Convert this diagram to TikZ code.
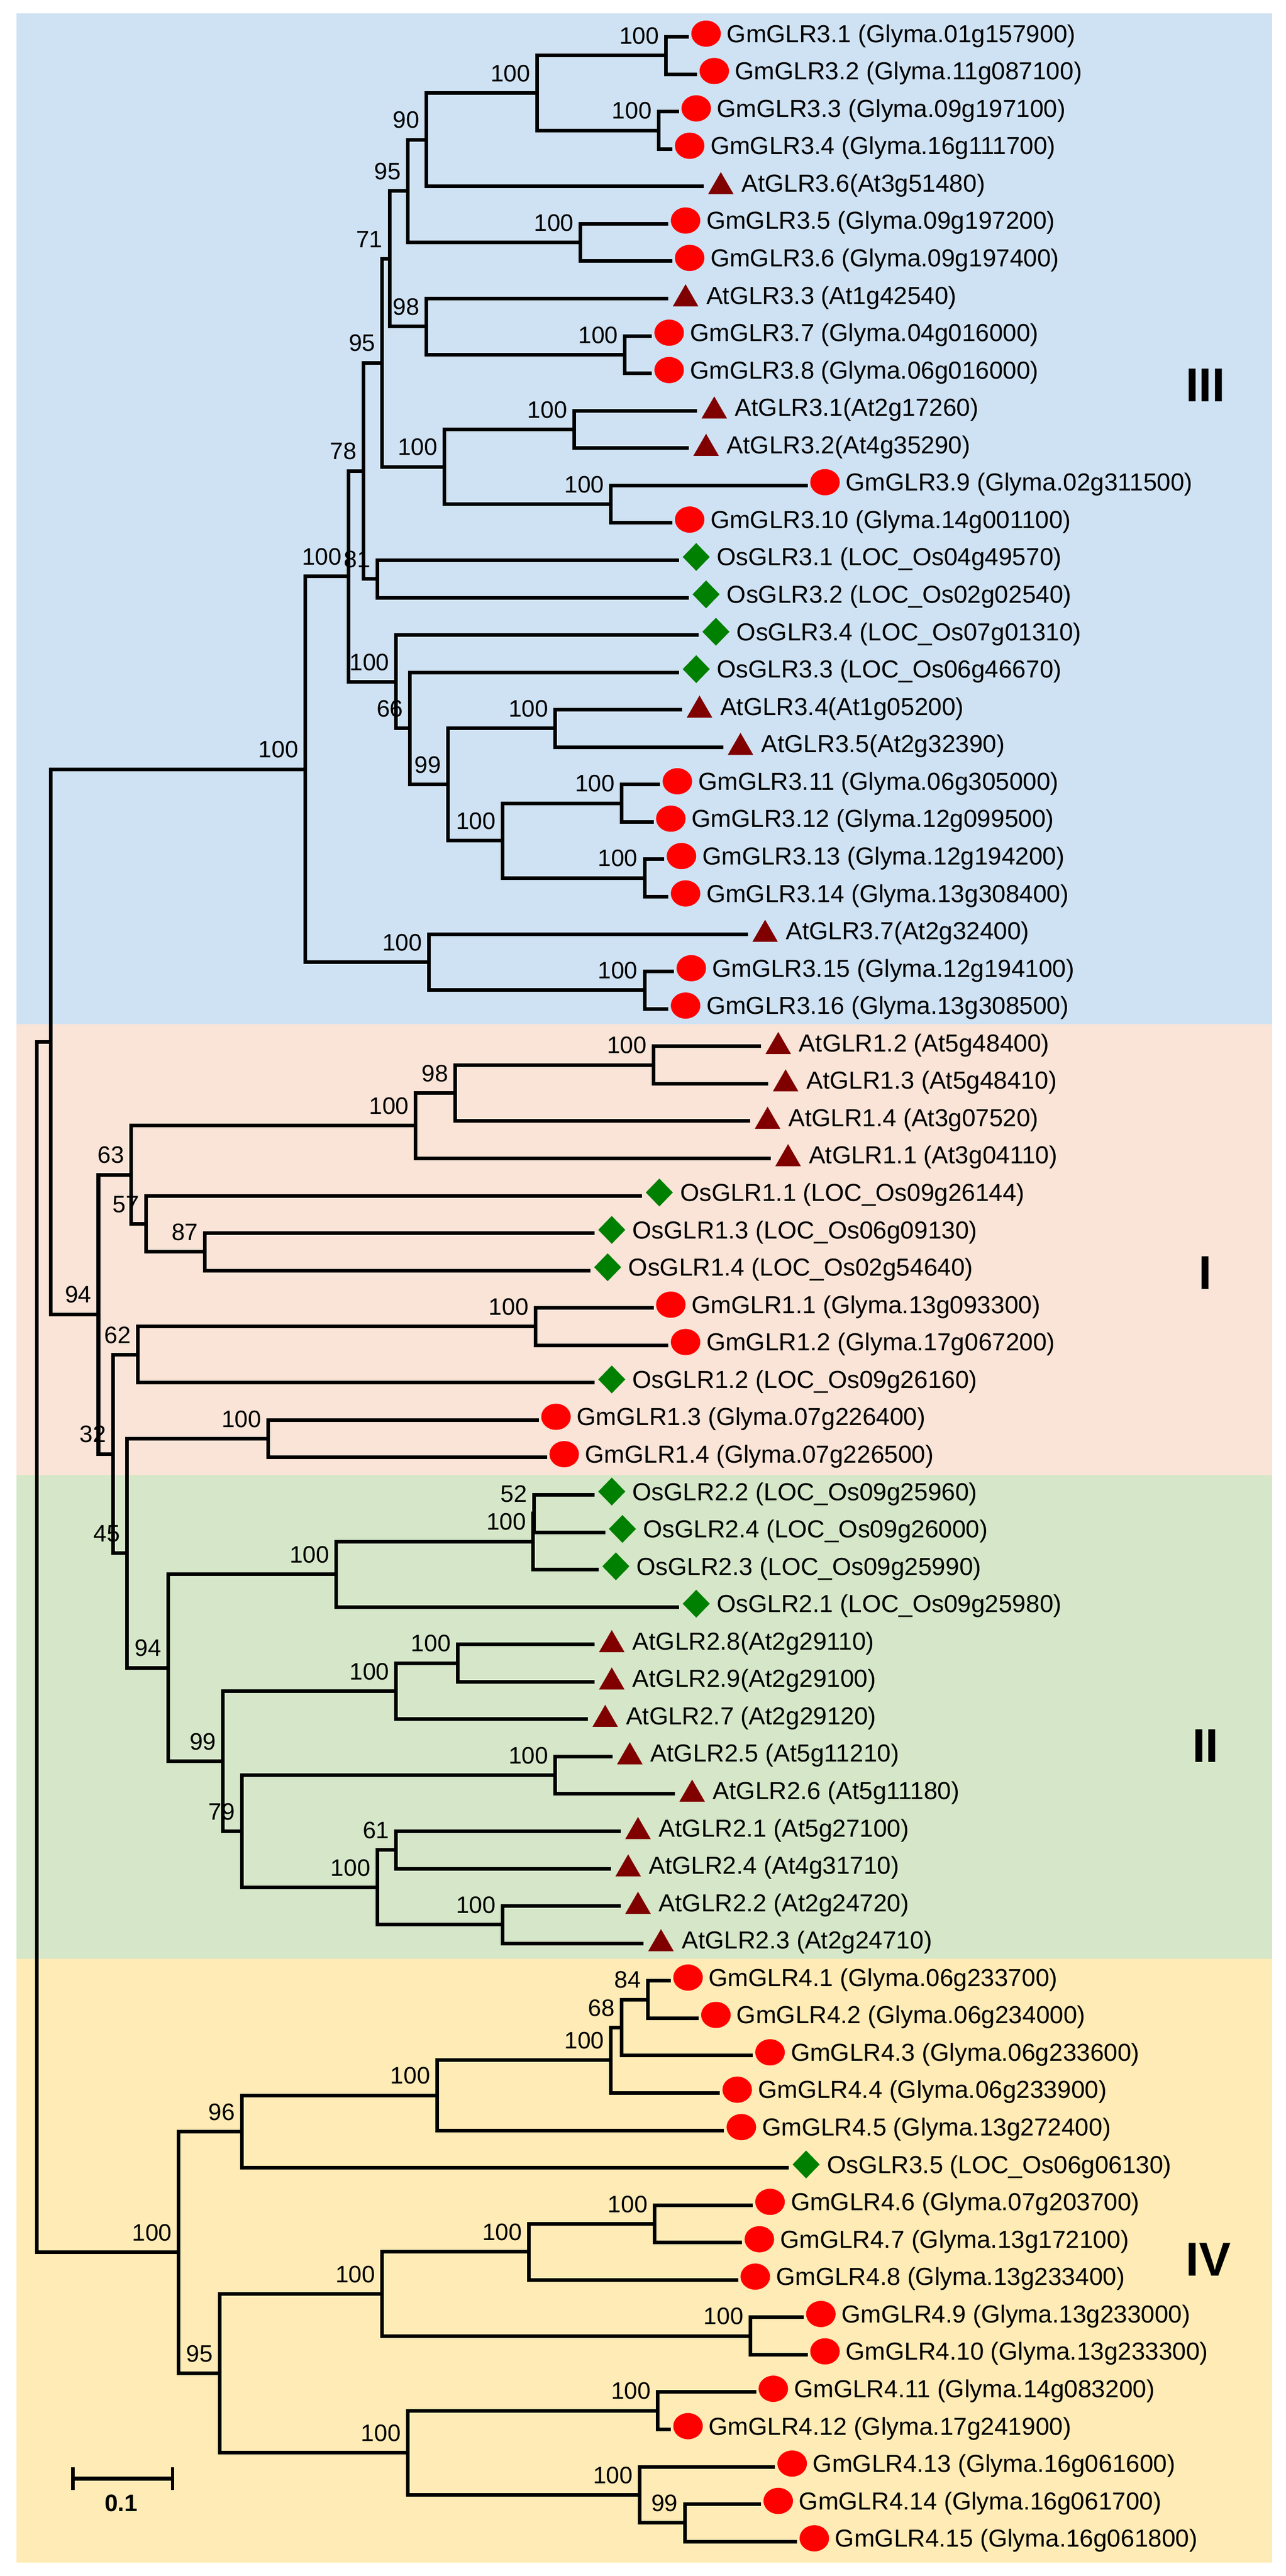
\documentclass[tikz,border=0pt]{standalone}
\usepackage{fontspec}
\setmainfont{Liberation Sans}
\usetikzlibrary{shapes.geometric,positioning}

\definecolor{bgIII}{HTML}{CFE2F3}
\definecolor{bgI}{HTML}{F9E4D7}
\definecolor{bgII}{HTML}{D5E7C8}
\definecolor{bgIV}{HTML}{FFEBB5}
\definecolor{gmred}{HTML}{FF0000}
\definecolor{atred}{HTML}{800000}
\definecolor{osgreen}{HTML}{008000}

\begin{document}
\begin{tikzpicture}[
  branch/.style={line width=2.2pt},
  boot/.style={anchor=base east, inner sep=0pt, xshift=-4pt, yshift=7pt, font=\fontsize{14.5}{16}\selectfont},
  mk/.style={inner sep=0pt, outer sep=0pt, xshift=10.5pt, yshift=2pt},
  mkgm/.style={mk, ellipse, fill=gmred, minimum width=18pt, minimum height=16pt},
  mkos/.style={mk, diamond, fill=osgreen, minimum width=16.5pt, minimum height=17pt},
  mkat/.style={mk, regular polygon, regular polygon sides=3, fill=atred, minimum size=18pt, yshift=-2.25pt},
  leaf/.style={anchor=base west, inner sep=0pt, xshift=23pt, yshift=-3.3pt, font=\fontsize{15}{18}\selectfont},
  grouplab/.style={inner sep=0pt, font=\fontsize{29}{34}\selectfont\bfseries}
]

\useasboundingbox (0,0) rectangle (784pt,-1570.7pt);

%% coloured bands of the four groups
\fill[bgIII] (10pt,-8.2pt) rectangle (775.5pt,-624.6pt);
\fill[bgI]   (10pt,-624.6pt) rectangle (775.5pt,-899.5pt);
\fill[bgII]  (10pt,-899.5pt) rectangle (775.5pt,-1194.3pt);
\fill[bgIV]  (10pt,-1194.3pt) rectangle (775.5pt,-1562.5pt);

\node[grouplab] (gIII) at (735pt,-235pt) {III};
\node[grouplab] (gI)   at (735pt,-776pt) {I};
\node[grouplab] (gII)  at (735pt,-1064.5pt) {II};
\node[grouplab] (gIV)  at (736.8pt,-1377.7pt) {IV};

\begin{scope}[x=0.5pt, y=-22.794pt, yshift=-22.5pt]

%% leaves: branch end / marker / name
\def\leaves{
840/mkgm/{GmGLR3.1 (Glyma.01g157900)},
850/mkgm/{GmGLR3.2 (Glyma.11g087100)},
828/mkgm/{GmGLR3.3 (Glyma.09g197100)},
820/mkgm/{GmGLR3.4 (Glyma.16g111700)},
858/mkat/{AtGLR3.6(At3g51480)},
815/mkgm/{GmGLR3.5 (Glyma.09g197200)},
820/mkgm/{GmGLR3.6 (Glyma.09g197400)},
815/mkat/{AtGLR3.3 (At1g42540)},
795/mkgm/{GmGLR3.7 (Glyma.04g016000)},
795/mkgm/{GmGLR3.8 (Glyma.06g016000)},
850/mkat/{AtGLR3.1(At2g17260)},
840/mkat/{AtGLR3.2(At4g35290)},
985/mkgm/{GmGLR3.9 (Glyma.02g311500)},
820/mkgm/{GmGLR3.10 (Glyma.14g001100)},
828/mkos/{OsGLR3.1 (LOC\_Os04g49570)},
840/mkos/{OsGLR3.2 (LOC\_Os02g02540)},
852/mkos/{OsGLR3.4 (LOC\_Os07g01310)},
828/mkos/{OsGLR3.3 (LOC\_Os06g46670)},
832/mkat/{AtGLR3.4(At1g05200)},
882/mkat/{AtGLR3.5(At2g32390)},
805/mkgm/{GmGLR3.11 (Glyma.06g305000)},
797/mkgm/{GmGLR3.12 (Glyma.12g099500)},
810/mkgm/{GmGLR3.13 (Glyma.12g194200)},
815/mkgm/{GmGLR3.14 (Glyma.13g308400)},
912/mkat/{AtGLR3.7(At2g32400)},
822/mkgm/{GmGLR3.15 (Glyma.12g194100)},
815/mkgm/{GmGLR3.16 (Glyma.13g308500)},
928/mkat/{AtGLR1.2 (At5g48400)},
937/mkat/{AtGLR1.3 (At5g48410)},
915/mkat/{AtGLR1.4 (At3g07520)},
940/mkat/{AtGLR1.1 (At3g04110)},
783/mkos/{OsGLR1.1 (LOC\_Os09g26144)},
725/mkos/{OsGLR1.3 (LOC\_Os06g09130)},
720/mkos/{OsGLR1.4 (LOC\_Os02g54640)},
797/mkgm/{GmGLR1.1 (Glyma.13g093300)},
815/mkgm/{GmGLR1.2 (Glyma.17g067200)},
725/mkos/{OsGLR1.2 (LOC\_Os09g26160)},
657/mkgm/{GmGLR1.3 (Glyma.07g226400)},
667/mkgm/{GmGLR1.4 (Glyma.07g226500)},
725/mkos/{OsGLR2.2 (LOC\_Os09g25960)},
738/mkos/{OsGLR2.4 (LOC\_Os09g26000)},
730/mkos/{OsGLR2.3 (LOC\_Os09g25990)},
828/mkos/{OsGLR2.1 (LOC\_Os09g25980)},
725/mkat/{AtGLR2.8(At2g29110)},
725/mkat/{AtGLR2.9(At2g29100)},
717/mkat/{AtGLR2.7 (At2g29120)},
747/mkat/{AtGLR2.5 (At5g11210)},
823/mkat/{AtGLR2.6 (At5g11180)},
757/mkat/{AtGLR2.1 (At5g27100)},
745/mkat/{AtGLR2.4 (At4g31710)},
757/mkat/{AtGLR2.2 (At2g24720)},
785/mkat/{AtGLR2.3 (At2g24710)},
818/mkgm/{GmGLR4.1 (Glyma.06g233700)},
852/mkgm/{GmGLR4.2 (Glyma.06g234000)},
918/mkgm/{GmGLR4.3 (Glyma.06g233600)},
878/mkgm/{GmGLR4.4 (Glyma.06g233900)},
883/mkgm/{GmGLR4.5 (Glyma.13g272400)},
962/mkos/{OsGLR3.5 (LOC\_Os06g06130)},
918/mkgm/{GmGLR4.6 (Glyma.07g203700)},
905/mkgm/{GmGLR4.7 (Glyma.13g172100)},
900/mkgm/{GmGLR4.8 (Glyma.13g233400)},
980/mkgm/{GmGLR4.9 (Glyma.13g233000)},
985/mkgm/{GmGLR4.10 (Glyma.13g233300)},
922/mkgm/{GmGLR4.11 (Glyma.14g083200)},
818/mkgm/{GmGLR4.12 (Glyma.17g241900)},
945/mkgm/{GmGLR4.13 (Glyma.16g061600)},
928/mkgm/{GmGLR4.14 (Glyma.16g061700)},
972/mkgm/{GmGLR4.15 (Glyma.16g061800)}}

%% inner nodes: name / x / y / bootstrap
\def\clades{
a01/812/0.5/100, a23/803/2.5/100, a03/655/1.5/100, a04/520/2.75/90,
a56/708/5.5/100, a06/497/4.125/95, a89/762/8.5/100, a79/520/7.75/98,
a09/475/5.9375/71, a1011/700/10.5/100, a1213/745/12.5/100, a1013/542/11.5/100,
a013/466/8.71875/95, a1415/460/14.5/81, a015/443/11.609375/78,
a1819/677/18.5/100, a2021/758/20.5/100, a2223/786/22.5/100, a2023/613/21.5/100,
a1823/546/20/99, a1723/500/18.5/66, a1623/483/17.25/100, a023/425/14.4296875/100,
a2526/786/25.5/100, a2426/523/24.75/100, aIII/372/19.58984375/100,
b2728/797/27.5/100, b2729/555/28.25/98, b2730/507/29.125/100, b3233/250/32.5/87,
b3133/178/31.75/57, b2733/160/30.4375/63, b3435/653/34.5/100, b3436/168/35.25/62,
b3738/327/37.5/100, b3940/651/39.5/52, b3941/650/40.25/100, b3942/410/41.125/100,
b4344/558/43.5/100, b4345/483/44.25/100, b4647/677/46.5/100, b4849/483/48.5/61,
b5051/613/50.5/100, b4851/460/49.5/100, b4651/295/48/79, b4351/272/46.125/99,
b3951/205/43.625/94, b3751/155/40.5625/45, b3451/138/37.90625/32, b2751/120/34.171875/94,
c5253/790/52.5/84, c5254/758/53.25/68, c5255/745/54.125/100, c5256/533/55.0625/100,
c5257/295/56.03125/96, c5859/798/58.5/100, c5860/645/59.25/100, c6162/915/61.5/100,
c5862/466/60.375/100, c6364/802/63.5/100, c6667/835/66.5/99, c6567/780/65.75/100,
c6367/497/64.625/100, c5867/268/62.5/95, cIV/218/59.265625/100}

%% parent / first child / second child
\def\edges{
a01/t0/t1, a23/t2/t3, a03/a01/a23, a04/a03/t4, a56/t5/t6, a06/a04/a56,
a89/t8/t9, a79/t7/a89, a09/a06/a79, a1011/t10/t11, a1213/t12/t13,
a1013/a1011/a1213, a013/a09/a1013, a1415/t14/t15, a015/a013/a1415,
a1819/t18/t19, a2021/t20/t21, a2223/t22/t23, a2023/a2021/a2223,
a1823/a1819/a2023, a1723/t17/a1823, a1623/t16/a1723, a023/a015/a1623,
a2526/t25/t26, a2426/t24/a2526, aIII/a023/a2426,
b2728/t27/t28, b2729/b2728/t29, b2730/b2729/t30, b3233/t32/t33, b3133/t31/b3233,
b2733/b2730/b3133, b3435/t34/t35, b3436/b3435/t36, b3738/t37/t38, b3940/t39/t40,
b3941/b3940/t41, b3942/b3941/t42, b4344/t43/t44, b4345/b4344/t45, b4647/t46/t47,
b4849/t48/t49, b5051/t50/t51, b4851/b4849/b5051, b4651/b4647/b4851,
b4351/b4345/b4651, b3951/b3942/b4351, b3751/b3738/b3951, b3451/b3436/b3751,
b2751/b2733/b3451, n051/aIII/b2751,
c5253/t52/t53, c5254/c5253/t54, c5255/c5254/t55, c5256/c5255/t56, c5257/c5256/t57,
c5859/t58/t59, c5860/c5859/t60, c6162/t61/t62, c5862/c5860/c6162, c6364/t63/t64,
c6667/t66/t67, c6567/t65/c6667, c6367/c6364/c6567, c5867/c5862/c6367,
cIV/c5257/c5867, root/n051/cIV}

\foreach \xe/\kind/\name [count=\ni from 0] in \leaves
  \coordinate (t\ni) at (\xe,\ni);

\foreach \n/\x/\y/\bs in \clades
{
  \coordinate (\n) at (\x,\y);
  \node[boot] (bs\n) at (\n) {\bs};
}
\coordinate (n051) at (62,26.880859375);
\coordinate (root) at (45,43.0732421875);

\foreach \p/\a/\b in \edges
  \draw[branch] (\a) -| (\p) |- (\b);

\foreach \xe/\kind/\name [count=\ni from 0] in \leaves
{
  \node[\kind] (m\ni) at (t\ni) {};
  \node[leaf] (l\ni) at (t\ni) {\name};
}
\end{scope}

%% scale bar
\coordinate (sbl) at (44.5pt,-1511.3pt);
\coordinate (sbr) at (105.2pt,-1511.3pt);
\draw[line width=2.8pt] (sbl) -- (sbr);
\draw[line width=2.1pt] ([yshift=6.9pt]sbl) -- ([yshift=-6.9pt]sbl);
\draw[line width=2.1pt] ([yshift=6.9pt]sbr) -- ([yshift=-6.9pt]sbr);
\node[anchor=base, inner sep=0pt, font=\fontsize{14.5}{16}\selectfont\bfseries] (sbtext) at (73.9pt,-1531.4pt) {0.1};

\end{tikzpicture}
\end{document}
